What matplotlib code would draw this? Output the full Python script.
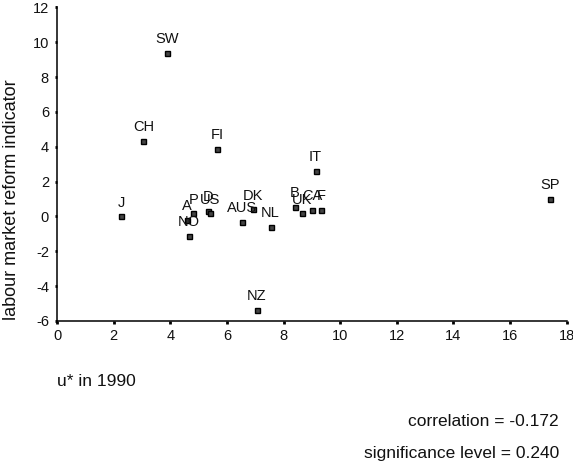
import matplotlib.pyplot as plt

plt.rcParams['font.family'] = ['Liberation Sans', 'DejaVu Sans']
plt.rcParams['axes.unicode_minus'] = False

# country codes, u* in 1990, labour market reform indicator
countries = ['SW', 'CH', 'FI', 'J', 'NO', 'A', 'P', 'D', 'US', 'AUS', 'DK', 'NL',
             'NZ', 'B', 'UK', 'CA', 'F', 'IT', 'SP']
u_star = [3.87, 3.05, 5.66, 2.26, 4.65, 4.60, 4.81, 5.34, 5.42, 6.52, 6.93, 7.54,
          7.05, 8.40, 8.64, 9.01, 9.32, 9.13, 17.41]
reform = [9.39, 4.33, 3.89, 0.01, -1.12, -0.18, 0.18, 0.31, 0.18, -0.33, 0.41, -0.59,
          -5.35, 0.53, 0.18, 0.39, 0.39, 2.61, 0.99]

xticks = [0, 2, 4, 6, 8, 10, 12, 14, 16, 18]
yticks = [-6, -4, -2, 0, 2, 4, 6, 8, 10, 12]

fig = plt.figure(figsize=(5.73, 4.71), dpi=100)
ax = fig.add_axes([0.0995, 0.3185, 0.8895, 0.666])

ax.plot(u_star, reform, 's', ms=3.6, mfc='#444444', mec='black', mew=1.0,
        linestyle='none', clip_on=False)

for name, x, y in zip(countries, u_star, reform):
    ax.annotate(name, (x, y), xytext=(0, 7), textcoords='offset points',
                ha='center', va='baseline', fontsize=10.5, color='#111111')

ax.set_xlim(0, 18)
ax.set_ylim(-6, 12)
ax.set_xticks(xticks)
ax.set_yticks(yticks)
ax.tick_params(direction='out', length=1.8, width=2, labelsize=10.5, pad=4,
               color='black', labelcolor='#111111')

for s in ['top', 'right']:
    ax.spines[s].set_visible(False)
for s in ['left', 'bottom']:
    ax.spines[s].set_linewidth(1.1)

fig.text(12 / 573, 1 - 200 / 471, 'labour market reform indicator', rotation=90,
         ha='center', va='center', fontsize=13, color='#111111')
fig.text(57 / 573, 1 - 382 / 471, 'u* in 1990', ha='left', va='center',
         fontsize=12.5, color='#111111')
fig.text(559 / 573, 1 - 422 / 471, 'correlation = -0.172', ha='right', va='center',
         fontsize=12.5, color='#111111')
fig.text(559 / 573, 1 - 453.5 / 471, 'significance level = 0.240', ha='right',
         va='center', fontsize=12.5, color='#111111')

fig.savefig('out.png', dpi=100)
